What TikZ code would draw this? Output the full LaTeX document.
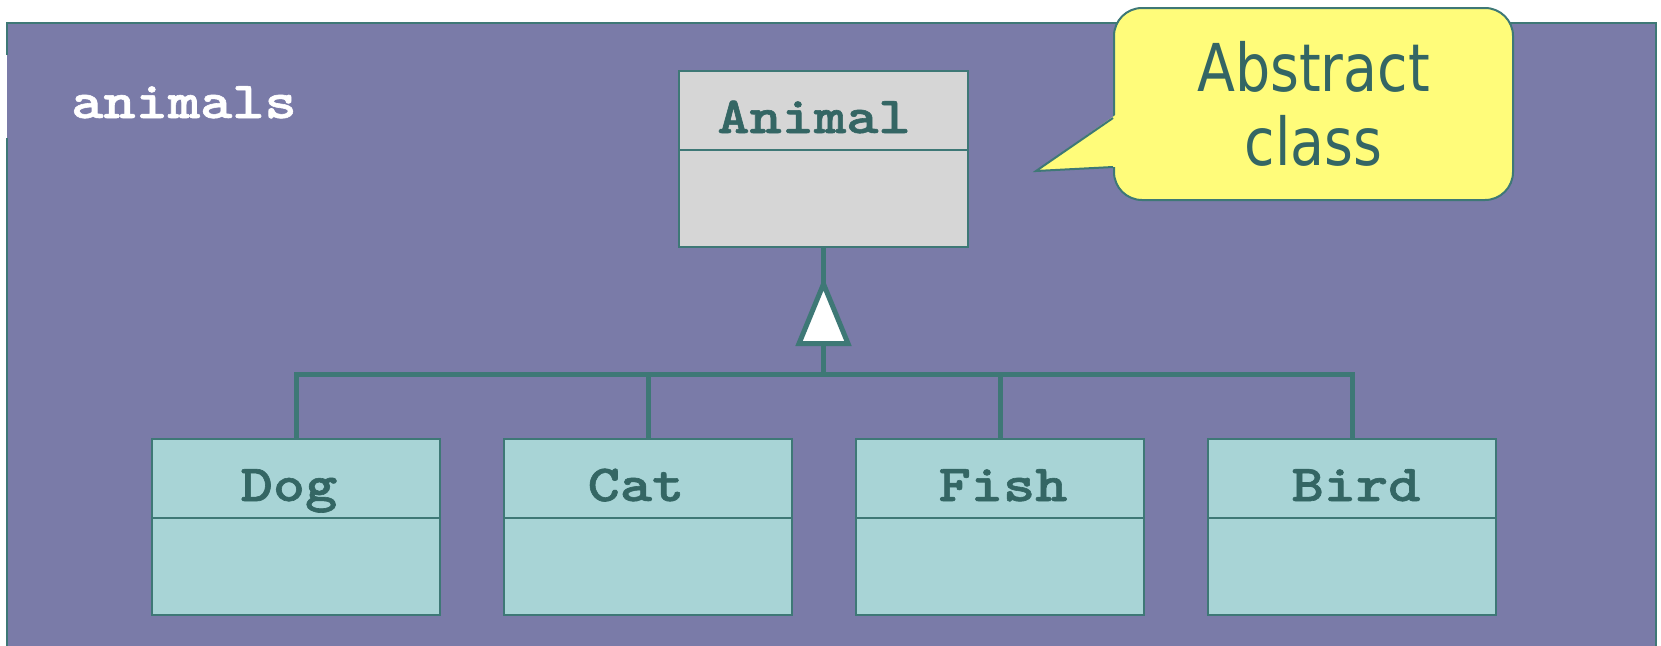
\documentclass[tikz,border=0pt]{standalone}
\usepackage{fontspec}
\newfontfamily\notefont{DejaVu Sans}[FakeStretch=0.84]
\newfontfamily\classfont{lmmonolt10-bold.otf}[FakeStretch=1.18, FakeBold=1.2]
\definecolor{pkgfill}{RGB}{122,123,168}
\definecolor{edge}{RGB}{62,120,118}
\definecolor{inktext}{RGB}{52,102,100}
\definecolor{subfill}{RGB}{168,212,214}
\definecolor{absfill}{RGB}{214,214,214}
\definecolor{notefill}{RGB}{255,252,122}
\tikzset{
  pkgbox/.style={fill=pkgfill, inner sep=0pt, anchor=north west},
  pkgline/.style={draw=edge, line width=2pt},
  classbox/.style={draw=edge, line width=2pt, fill=subfill, inner sep=0pt, anchor=north west,
                   minimum width=288pt, minimum height=176pt},
  divider/.style={draw=edge, line width=2pt},
  classname/.style={font=\classfont\fontsize{52}{60}\selectfont, text=inktext, anchor=base, inner sep=0pt},
  conn/.style={draw=edge, line width=5pt},
  genhead/.style={draw=edge, line width=5pt, fill=white, line join=miter},
  notebox/.style={draw=edge, line width=2pt, fill=notefill, rounded corners=28pt, inner sep=0pt,
                  anchor=north west, align=center, text=inktext,
                  font=\notefont\fontsize{66}{74}\selectfont},
  noteline/.style={draw=edge, line width=2pt, line join=miter}
}
\begin{document}
\begin{tikzpicture}[x=1pt,y=-1pt]
\useasboundingbox (0,0) rectangle (1661,645);
\fill[white] (0,0) rectangle (1661,645);
% package
\node[pkgbox, minimum width=1649pt, minimum height=650pt] (pkg) at (7,23) {};
\draw[pkgline] (7,55) -- (pkg.north west) -- (pkg.north east) -- (pkg.south east);
\draw[pkgline] (7,138) -- (pkg.south west);
\node[font=\classfont\fontsize{52}{60}\selectfont, text=white, anchor=base, inner sep=0pt] (pkgname) at (184,118) {animals};
% abstract class
\node[classbox, fill=absfill, minimum width=289pt] (animal) at (678,70) {};
\draw[divider] ([yshift=-80pt]animal.north west) -- ([yshift=-80pt]animal.north east);
\node[classname] (animalname) at (814,133) {Animal};
% subclasses
\node[classbox] (dog) at (151,438) {};
\node[classbox] (cat) at (503,438) {};
\node[classbox] (fish) at (855,438) {};
\node[classbox] (bird) at (1207,438) {};
\foreach \c in {dog,cat,fish,bird}{
  \draw[divider] ([yshift=-80pt]\c.north west) -- ([yshift=-80pt]\c.north east);
}
\node[classname] (dogname) at (289,501) {Dog};
\node[classname] (catname) at (636,501) {Cat};
\node[classname] (fishname) at (1003,501) {Fish};
\node[classname] (birdname) at (1356,501) {Bird};
% generalization
\coordinate (apex) at (animal.south |- 0,284);
\coordinate (base) at (animal.south |- 0,343.5);
\coordinate (bus) at (animal.south |- 0,374);
\draw[conn] (animal.south) -- (apex);
\draw[conn] (base) -- (bus);
\draw[conn] (dog.north) -- (dog.north |- bus) -- (bird.north |- bus) -- (bird.north);
\draw[conn] (cat.north) -- (cat.north |- bus);
\draw[conn] (fish.north) -- (fish.north |- bus);
\draw[genhead] (apex) -- ([xshift=-24.5pt]base) -- ([xshift=24.5pt]base) -- cycle;
% callout
\node[notebox, minimum width=399pt, minimum height=192pt] (note) at (1113,7) {Abstract\\class};
\coordinate (ptip) at (1036,171);
\fill[notefill] (ptip) -- (1116,114.6) -- (1116,166.8) -- cycle;
\draw[noteline] (1113,118) -- (ptip) -- (1113,167);
\end{tikzpicture}
\end{document}
